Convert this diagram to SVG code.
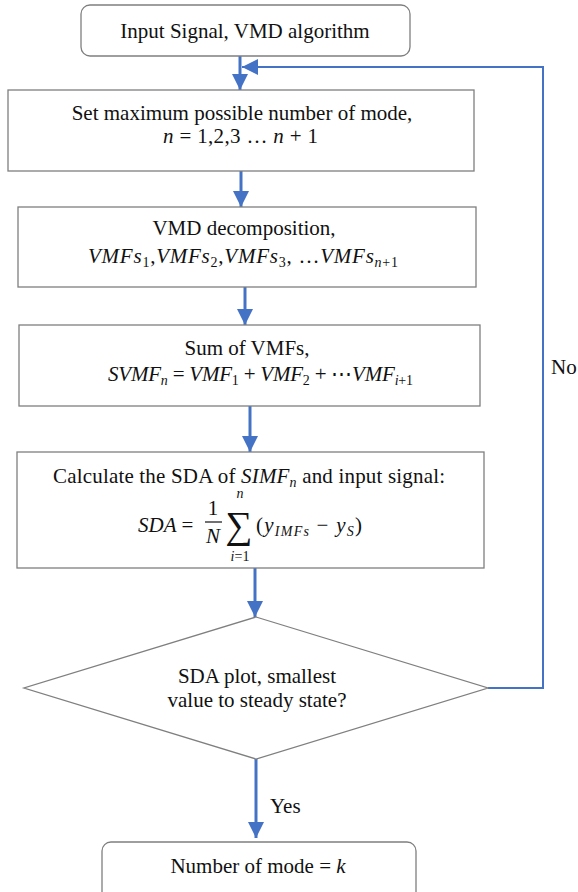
<svg xmlns="http://www.w3.org/2000/svg" width="578" height="892" viewBox="0 0 578 892">
<defs>
<style>
.box{fill:#fff;stroke:#7f7f7f;stroke-width:1.3}
.t{font-family:"Liberation Serif","DejaVu Serif",serif;font-size:21px;fill:#111}
.m{font-family:"Liberation Serif","DejaVu Serif",serif;font-size:21px;fill:#111;font-style:italic}
.i{font-style:italic}
.s{font-size:14px}
.c{stroke:#4472C4;fill:none}
</style>
<marker id="ah" markerUnits="userSpaceOnUse" markerWidth="16" markerHeight="16" viewBox="0 0 16 16" refX="16" refY="8" orient="auto">
<path d="M0,0 L16,8 L0,16 Z" fill="#4472C4"/>
</marker>
</defs>
<g id="connectors">
<line class="c" stroke-width="3" x1="240" y1="56" x2="240" y2="90" marker-end="url(#ah)"/>
<line class="c" stroke-width="3" x1="241" y1="171" x2="241" y2="207" marker-end="url(#ah)"/>
<line class="c" stroke-width="3" x1="245" y1="287" x2="245" y2="325" marker-end="url(#ah)"/>
<line class="c" stroke-width="3" x1="250" y1="406" x2="250" y2="452" marker-end="url(#ah)"/>
<line class="c" stroke-width="3" x1="255" y1="568" x2="255" y2="617" marker-end="url(#ah)"/>
<line class="c" stroke-width="3" x1="256" y1="759" x2="256" y2="838" marker-end="url(#ah)"/>
<polyline class="c" stroke-width="2" points="488,688 543,688 543,67 242,67" marker-end="url(#ah)"/>
<text class="t" x="270" y="813">Yes</text>
<text class="t" x="551" y="374">No</text>
</g>
<g id="start">
<rect class="box" x="81" y="5" width="329" height="51" rx="9"/>
<text class="t" x="245" y="38" text-anchor="middle">Input Signal, VMD algorithm</text>
</g>
<g id="setmax">
<rect class="box" x="8" y="90" width="466" height="81"/>
<text class="t" x="242" y="120" text-anchor="middle">Set maximum possible number of mode,</text>
<text class="t" x="163" y="143" textLength="155" lengthAdjust="spacing"><tspan class="i">n</tspan> = 1,2,3 … <tspan class="i">n</tspan> + 1</text>
</g>
<g id="vmd">
<rect class="box" x="18" y="207" width="458" height="80"/>
<text class="t" x="244" y="235" text-anchor="middle">VMD decomposition,</text>
<text class="m" x="88" y="263" textLength="310" lengthAdjust="spacing">VMFs<tspan class="s" dy="4" font-style="normal">1</tspan><tspan dy="-4" font-style="normal">,</tspan>VMFs<tspan class="s" dy="4" font-style="normal">2</tspan><tspan dy="-4" font-style="normal">,</tspan>VMFs<tspan class="s" dy="4" font-style="normal">3</tspan><tspan dy="-4" font-style="normal">, …</tspan>VMFs<tspan class="s" dy="4">n</tspan><tspan class="s" font-style="normal">+1</tspan></text>
</g>
<g id="sum">
<rect class="box" x="19" y="325" width="461" height="81"/>
<text class="t" x="247" y="355" text-anchor="middle">Sum of VMFs,</text>
<text class="m" x="108" y="381" textLength="305" lengthAdjust="spacing">SVMF<tspan class="s" dy="4">n</tspan><tspan dy="-4" font-style="normal"> = </tspan>VMF<tspan class="s" dy="4" font-style="normal">1</tspan><tspan dy="-4" font-style="normal"> + </tspan>VMF<tspan class="s" dy="4" font-style="normal">2</tspan><tspan dy="-4" font-style="normal"> + ⋯</tspan>VMF<tspan class="s" dy="4">i</tspan><tspan class="s" font-style="normal">+1</tspan></text>
</g>
<g id="sda">
<rect class="box" x="17" y="452" width="467" height="116"/>
<text class="t" x="53" y="483" textLength="392" lengthAdjust="spacing">Calculate the SDA of  <tspan class="i">SIMF</tspan><tspan class="s i" dy="4">n</tspan><tspan dy="-4"> and input signal:</tspan></text>
<text class="m" x="138" y="532">SDA <tspan font-style="normal">=</tspan></text>
<text class="t" x="213" y="515" text-anchor="middle">1</text>
<line x1="205" y1="522" x2="222" y2="522" stroke="#111" stroke-width="1.2"/>
<text class="m" x="213" y="543" text-anchor="middle">N</text>
<text class="t" x="239" y="538" text-anchor="middle" style="font-size:38px">∑</text>
<text class="m s" x="240" y="498" text-anchor="middle">n</text>
<text class="t s" x="240" y="561" text-anchor="middle"><tspan class="i">i</tspan>=1</text>
<text class="t" x="256" y="532" textLength="106" lengthAdjust="spacing">(<tspan class="i">y</tspan><tspan class="i s" dy="4">IMFs</tspan><tspan dy="-4"> − </tspan><tspan class="i">y</tspan><tspan class="i s" dy="4">S</tspan><tspan dy="-4">)</tspan></text>
</g>
<g id="decision">
<polygon class="box" points="256,617 488,688 256,759 24,688"/>
<text class="t" x="257" y="683" text-anchor="middle">SDA plot, smallest</text>
<text class="t" x="257" y="707" text-anchor="middle">value to steady state?</text>
</g>
<g id="end">
<rect class="box" x="102" y="842" width="314" height="60" rx="9"/>
<text class="t" x="258" y="873" text-anchor="middle">Number of mode = <tspan class="i">k</tspan></text>
</g>
</svg>
